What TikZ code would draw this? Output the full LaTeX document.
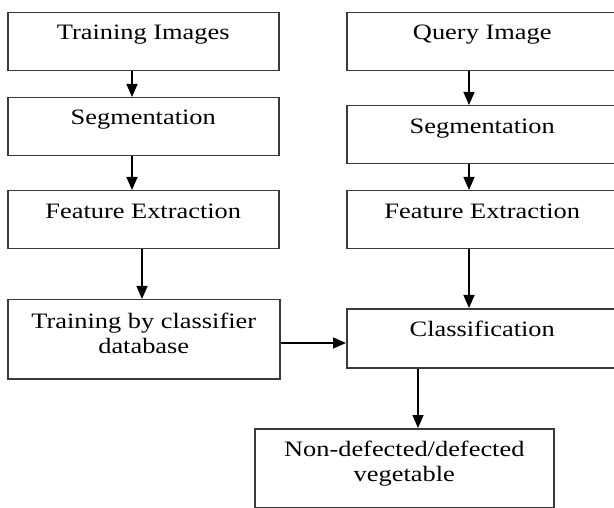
\documentclass[tikz,border=0pt]{standalone}
\usepackage{fontspec}
\setmainfont{Liberation Serif}[FakeStretch=1.2]
\usetikzlibrary{arrows.meta,calc}
\definecolor{edge}{HTML}{3A3A3A}
\begin{document}
\begin{tikzpicture}[x=1pt,y=-1pt,
  box/.style={draw=edge, line width=1.5pt, inner sep=0pt, anchor=north west},
  lbl/.style={anchor=base, inner sep=0pt, align=center,
    font=\fontsize{22pt}{25pt}\selectfont},
  flow/.style={draw=black, line width=1.3pt,
    -{Triangle[width=11pt,length=13pt]}}]
\clip (0,0) rectangle (614,508);
\fill[white] (0,0) rectangle (614,508);

% training branch
\node[box, minimum width=271pt, minimum height=58pt] (ti) at (7,12) {};
\node[box, minimum width=271pt, minimum height=58pt] (sl) at (7,97) {};
\node[box, minimum width=271pt, minimum height=58pt] (fl) at (7,190) {};
\node[box, minimum width=272pt, minimum height=79pt] (tc) at (7,299) {};

% query branch (runs off the right edge)
\node[box, minimum width=271pt, minimum height=58pt] (qi) at (346,12) {};
\node[box, minimum width=271pt, minimum height=58pt] (sr) at (346,105) {};
\node[box, minimum width=271pt, minimum height=58pt] (fr) at (346,190) {};
\node[box, minimum width=271pt, minimum height=59pt] (cl) at (346,308) {};

% result
\node[box, minimum width=299pt, minimum height=79pt] (rs) at (254,428) {};

% labels (two-line labels sit on the baseline of their last line)
\node[lbl] (tiT) at ($(ti.north)+(0,28)$) {Training Images};
\node[lbl] (slT) at ($(sl.north)+(0,28)$) {Segmentation};
\node[lbl] (flT) at ($(fl.north)+(0,29)$) {Feature Extraction};
\node[lbl] (tcT) at ($(tc.north)+(0,54)$) {Training by classifier\\database};
\node[lbl] (qiT) at ($(qi.north)+(0,28)$) {Query Image};
\node[lbl] (srT) at ($(sr.north)+(0,29)$) {Segmentation};
\node[lbl] (frT) at ($(fr.north)+(0,29)$) {Feature Extraction};
\node[lbl] (clT) at ($(cl.north)+(0,29)$) {Classification};
\node[lbl] (rsT) at ($(rs.north)+(0,53)$) {Non-defected/defected\\vegetable};

% connector columns
\coordinate (xl) at (132,0);
\coordinate (xm) at (142,0);
\coordinate (xr) at (469,0);
\coordinate (xc) at (418,0);
\coordinate (yh) at (0,343);

\draw[flow] (ti.south -| xl) -- (sl.north -| xl);
\draw[flow] (sl.south -| xl) -- (fl.north -| xl);
\draw[flow] (fl.south -| xm) -- (tc.north -| xm);
\draw[flow] (qi.south -| xr) -- (sr.north -| xr);
\draw[flow] (sr.south -| xr) -- (fr.north -| xr);
\draw[flow] (fr.south -| xr) -- (cl.north -| xr);
\draw[flow] (tc.east |- yh) -- (cl.west |- yh);
\draw[flow] (cl.south -| xc) -- (rs.north -| xc);
\end{tikzpicture}
\end{document}
